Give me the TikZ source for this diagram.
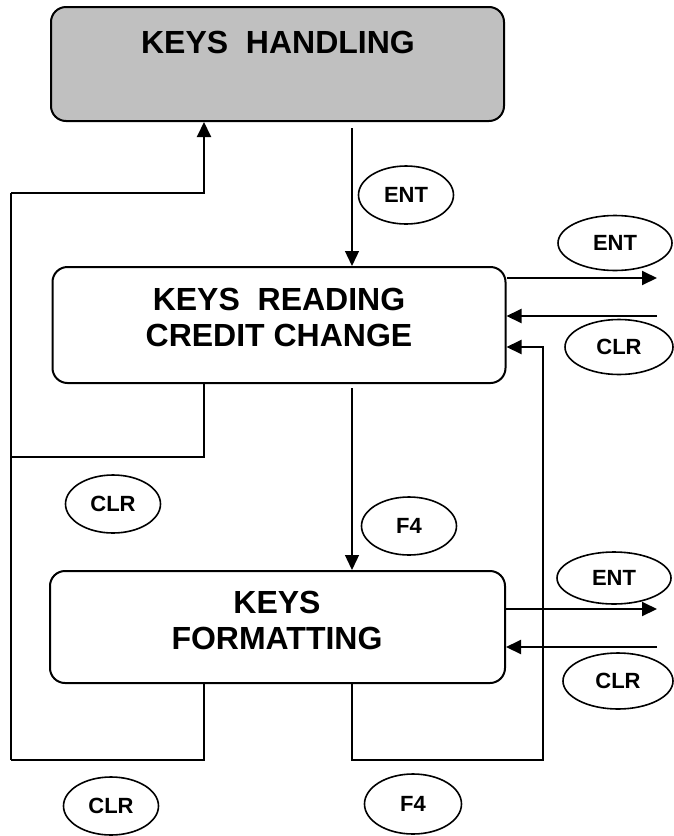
\documentclass[tikz,border=0pt]{standalone}
\usepackage{fontspec}
\setmainfont{Liberation Sans}
\usetikzlibrary{arrows.meta,shapes.geometric}
\definecolor{boxgray}{HTML}{C0C0C0}
\begin{document}
\begin{tikzpicture}[x=1pt,y=-1pt,
 box/.style={draw,line width=2pt,rounded corners=15pt,minimum width=453pt,minimum height=114pt,inner sep=0pt},
 title/.style={font=\bfseries\fontsize{32}{36}\selectfont,align=center,inner sep=0pt},
 key/.style={ellipse,draw,line width=1.6pt,minimum width=95pt,minimum height=58pt,inner sep=0pt,font=\bfseries\fontsize{22}{22}\selectfont},
 wire/.style={line width=2pt},
 flow/.style={line width=1.3pt},
 tip/.style={-{Triangle[length=15pt,width=14pt]}}]
 \useasboundingbox (0,0) rectangle (673,836);
 % the three states
 \node[box,fill=boxgray] (hand) at (277.5,64) {};
 \node[title] (handtxt) at (278,42) {KEYS~~HANDLING};
 \node[box,minimum height=116pt] (read) at (279,325) {};
 \node[title] (readtxt) at (279,317) {KEYS~~READING\\CREDIT CHANGE};
 \node[box,minimum width=455pt,minimum height=112pt] (fmt) at (277.5,627) {};
 \node[title] (fmttxt) at (277,620) {KEYS\\FORMATTING};
 % keys
 \node[key] (ent0) at (406,195) {ENT};
 \node[key,minimum width=114pt,minimum height=55pt] (ent1) at (615,243) {ENT};
 \node[key,minimum width=108pt,minimum height=55pt] (clr1) at (619,347) {CLR};
 \node[key] (clr0) at (113,504) {CLR};
 \node[key] (f40) at (409,526) {F4};
 \node[key,minimum width=114pt,minimum height=52pt] (ent2) at (614,578) {ENT};
 \node[key,minimum width=110pt,minimum height=56pt] (clr2) at (618,681) {CLR};
 \node[key] (clr3) at (111,806) {CLR};
 \node[key,minimum width=97pt,minimum height=60pt] (f41) at (413,804) {F4};
 % rails and free ends
 \coordinate (xa) at (204,0);
 \coordinate (xm) at (352,0);
 \coordinate (lt) at (11,193);
 \coordinate (lm) at (11,457);
 \coordinate (lb) at (11,760);
 \coordinate (rb) at (543,760);
 \coordinate (ry) at (0,347);
 \coordinate (o1) at (657,278);
 \coordinate (o2) at (657,316);
 \coordinate (o3) at (657,609);
 \coordinate (o4) at (657,647);
 % transitions
 \draw[flow,tip,shorten <=6pt] (hand.south -| xm) -- (read.north -| xm);
 \draw[flow,tip,shorten <=4pt] (read.south -| xm) -- (fmt.north -| xm);
 \draw[wire,tip] (lt) -| (hand.south -| xa);
 \draw[wire] (lt) -- (lb);
 \draw[wire] (read.south -| xa) |- (lm);
 \draw[wire] (fmt.south -| xa) |- (lb);
 \draw[wire,tip] (fmt.south -| xm) |- (rb) |- (read.east |- ry);
 \draw[wire,tip] (read.east |- o1) -- (o1);
 \draw[wire,tip] (o2) -- (read.east |- o2);
 \draw[wire,tip] (fmt.east |- o3) -- (o3);
 \draw[wire,tip] (o4) -- (fmt.east |- o4);
\end{tikzpicture}
\end{document}
